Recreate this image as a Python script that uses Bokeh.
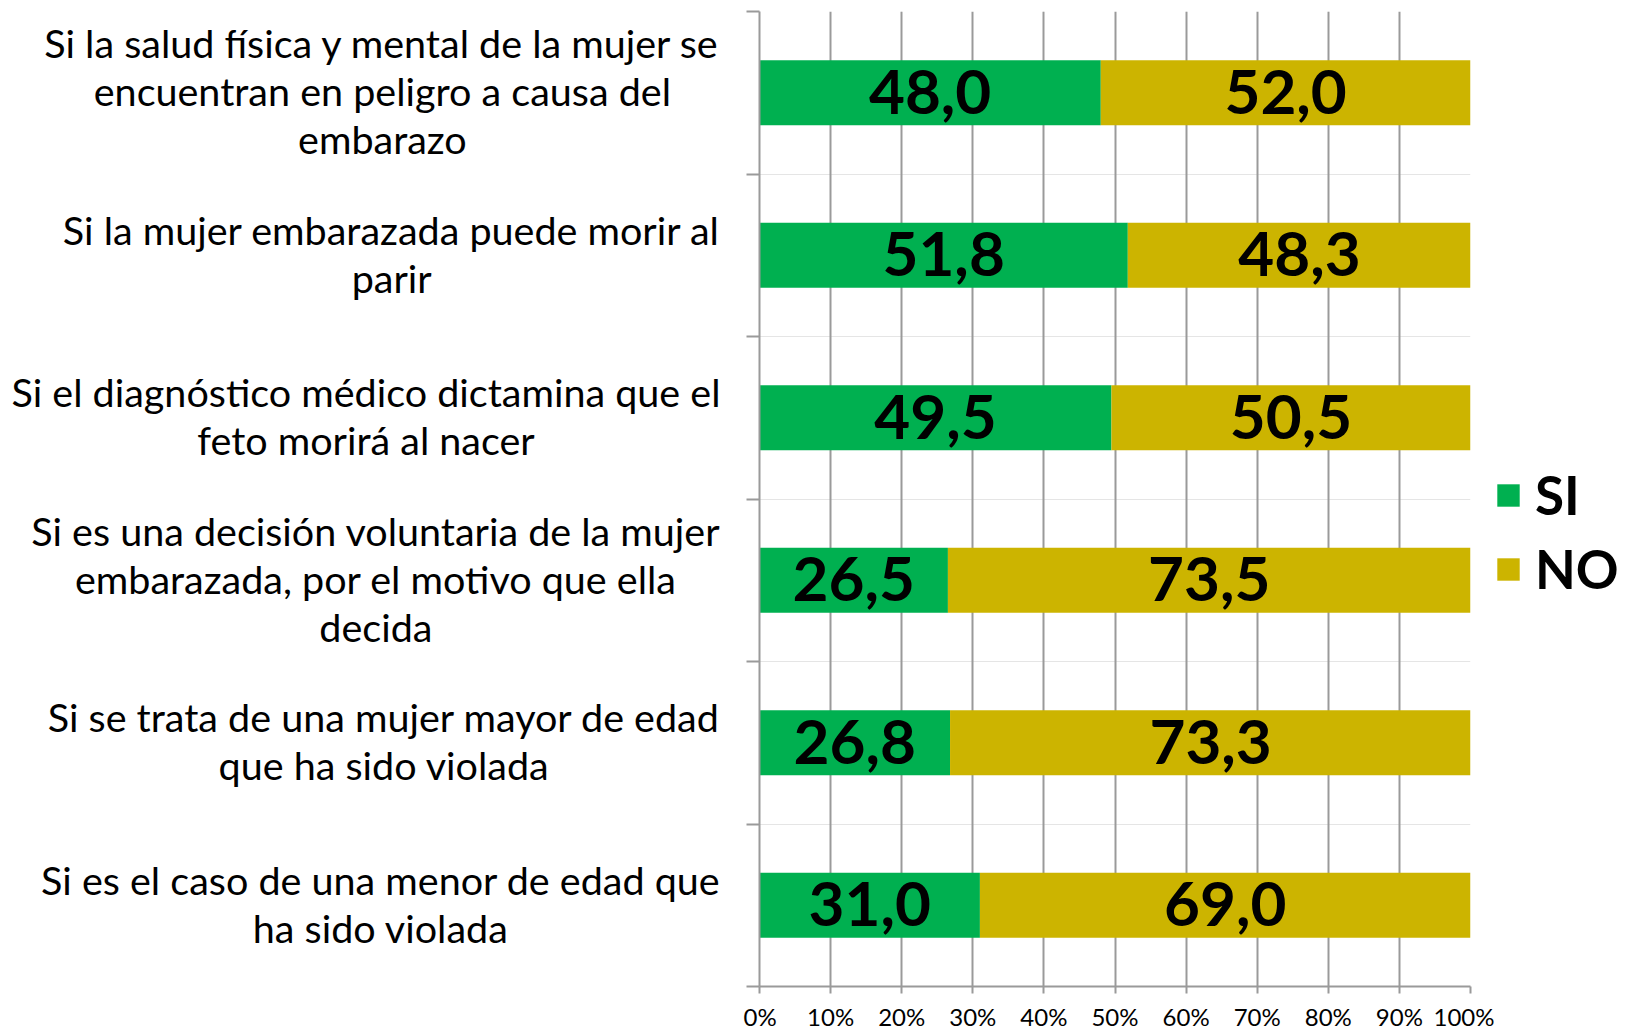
from bokeh.plotting import figure
from bokeh.layouts import row
from bokeh.models import (Range1d, FixedTicker, ColumnDataSource, Legend, LegendItem,
                          LinearAxis, Grid, Label)
from bokeh.core.properties import value
from bokeh.embed import file_html
from bokeh.resources import INLINE

categories = [
    "Si la salud física y mental de la mujer se\nencuentran en peligro a causa del\nembarazo",
    "Si la mujer embarazada puede morir al\nparir",
    "Si el diagnóstico médico dictamina que el\nfeto morirá al nacer",
    "Si es una decisión voluntaria de la mujer\nembarazada, por el motivo que ella\ndecida",
    "Si se trata de una mujer mayor de edad\nque ha sido violada",
    "Si es el caso de una menor de edad que\nha sido violada",
]
si_values = [48.0, 51.8, 49.5, 26.5, 26.8, 31.0]
no_values = [52.0, 48.3, 50.5, 73.5, 73.3, 69.0]
x_ticks = [0, 10, 20, 30, 40, 50, 60, 70, 80, 90, 100]
x_tick_labels = ["0%", "10%", "20%", "30%", "40%", "50%", "60%", "70%", "80%", "90%", "100%"]
series_names = ["SI", "NO"]

GREEN = "#00b050"
GOLD = "#ccb400"
GRID = "#9a9a9a"
FONT = "Lato"

n = len(categories)
ypos = [i + 0.5 for i in range(n)]

def fmt(v):
    return f"{v:.1f}".replace(".", ",")

H = 1033
TOP, BOT = 11, 44
WA, WC = 743, 132
BL_B, BR_B = 16, 24
WB = 1626 - WA - WC

src = ColumnDataSource(dict(
    y=ypos,
    si_left=[0] * n, si_right=si_values,
    no_left=si_values, no_right=[s + v for s, v in zip(si_values, no_values)],
    si_mid=[v / 2 for v in si_values],
    no_mid=[s + v / 2 for s, v in zip(si_values, no_values)],
    si_lab=[fmt(v) for v in si_values],
    no_lab=[fmt(v) for v in no_values],
))

# ---- A: category labels ----
pa = figure(width=WA, height=H, output_backend="svg", toolbar_location=None,
            x_range=Range1d(0, WA), y_range=Range1d(n, 0),
            x_axis_location=None, y_axis_location=None,
            min_border_left=0, min_border_right=0, min_border_top=TOP, min_border_bottom=BOT)
pa.outline_line_color = None
pa.xgrid.visible = False
pa.ygrid.visible = False
for y, c in zip(ypos, categories):
    pa.add_layout(Label(x=WA - 23, y=y, x_units="screen", y_units="data", text=c,
                        anchor="center_right", text_font=FONT, text_font_size="39.5px",
                        text_color="black", text_align="center", text_baseline="middle",
                        text_line_height=1.02, y_offset=2))

# ---- B: bars ----
p = figure(width=WB, height=H, output_backend="svg", toolbar_location=None,
           x_range=Range1d(0, 100), y_range=Range1d(n, 0),
           x_axis_location=None, y_axis_location=None,
           min_border_left=BL_B, min_border_right=BR_B, min_border_top=TOP, min_border_bottom=BOT)
p.outline_line_color = None

p.hbar(y="y", left="si_left", right="si_right", height=0.4, source=src,
       fill_color=GREEN, line_color=None)
p.hbar(y="y", left="no_left", right="no_right", height=0.4, source=src,
       fill_color=GOLD, line_color=None)

for xcol, tcol in (("si_mid", "si_lab"), ("no_mid", "no_lab")):
    p.text(x=xcol, y="y", text=tcol, source=src, text_align="center", text_baseline="middle",
           text_font=value(FONT), text_font_style="bold", text_font_size="62px",
           text_color="black", y_offset=-1)

xaxis = LinearAxis(ticker=FixedTicker(ticks=x_ticks))
xaxis.major_label_overrides = {t: l for t, l in zip(x_ticks, x_tick_labels)}
xaxis.major_label_text_font = FONT
xaxis.major_label_text_font_size = "24px"
xaxis.major_label_text_color = "black"
xaxis.major_label_standoff = 8
xaxis.major_tick_in = 0
xaxis.major_tick_out = 7
xaxis.minor_tick_line_color = None
xaxis.axis_line_color = GRID
xaxis.axis_line_width = 2
xaxis.major_tick_line_color = GRID
xaxis.major_tick_line_width = 2
p.add_layout(xaxis, "below")

# y axis: only boundary ticks (minor), no labels
yaxis = LinearAxis(ticker=FixedTicker(ticks=[], minor_ticks=list(range(n + 1))))
yaxis.major_label_standoff = 0
yaxis.major_tick_line_color = None
yaxis.minor_tick_in = 0
yaxis.minor_tick_out = 13
yaxis.minor_tick_line_color = GRID
yaxis.minor_tick_line_width = 2
yaxis.axis_line_color = GRID
yaxis.axis_line_width = 2
p.add_layout(yaxis, "left")

g = Grid(dimension=0, ticker=FixedTicker(ticks=x_ticks[1:]))
g.grid_line_color = GRID
g.grid_line_width = 2
p.add_layout(g)

# ---- C: legend (its renderers draw the same bars, outside the visible range) ----
pc = figure(width=WC, height=H, output_backend="svg", toolbar_location=None,
            x_range=Range1d(-2, -1), y_range=Range1d(0, 1),
            x_axis_location=None, y_axis_location=None,
            min_border_left=0, min_border_right=0, min_border_top=0, min_border_bottom=0)
pc.outline_line_color = None
pc.xgrid.visible = False
pc.ygrid.visible = False
lr = [
    pc.hbar(y="y", left="si_left", right="si_right", height=0.4, source=src,
            fill_color=GREEN, line_color=None),
    pc.hbar(y="y", left="no_left", right="no_right", height=0.4, source=src,
            fill_color=GOLD, line_color=None),
]
legend = Legend(items=[LegendItem(label=nm, renderers=[r]) for nm, r in zip(series_names, lr)])
legend.label_text_font = FONT
legend.label_text_font_style = "bold"
legend.label_text_font_size = "53px"
legend.label_text_color = "black"
legend.glyph_width = 28
legend.glyph_height = 28
legend.label_standoff = 13
legend.spacing = 11
legend.border_line_color = None
legend.background_fill_alpha = 0
legend.margin = 0
legend.padding = 0
legend.location = (0, 386)
pc.add_layout(legend)

layout = row(pa, p, pc, spacing=0)
open("out.html", "w").write(file_html(layout, INLINE))
